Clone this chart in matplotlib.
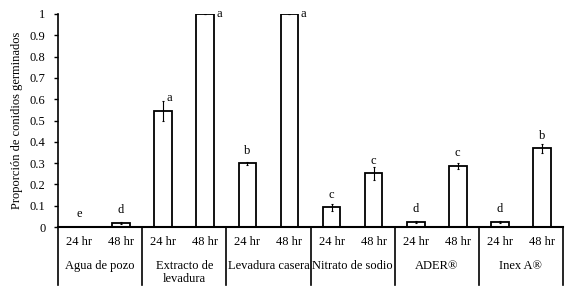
import matplotlib
matplotlib.use("Agg")
import matplotlib.pyplot as plt
import numpy as np

plt.rcParams['font.family'] = ['Liberation Serif', 'DejaVu Serif']

groups = ['Agua de pozo', 'Extracto de\nlevadura', 'Levadura casera',
          'Nitrato de sodio', 'ADER®', 'Inex A®']
times = ['24 hr', '48 hr']
values = [0.0, 0.02, 0.545, 1.0, 0.299, 1.0, 0.092, 0.252, 0.023, 0.286, 0.023, 0.369]
errors = [0.0, 0.005, 0.047, 0.002, 0.008, 0.002, 0.016, 0.031, 0.004, 0.013, 0.004, 0.023]
letters = ['e', 'd', 'a', 'a', 'b', 'a', 'c', 'c', 'd', 'c', 'd', 'b']

W, H = 576, 292
fig = plt.figure(figsize=(W / 100, H / 100), dpi=100)
ax = fig.add_axes([58 / W, (H - 227) / H, (563 - 58) / W, (227 - 14) / H])

x = np.arange(len(values))
ax.bar(x, values, width=0.42, color='white', edgecolor='black', linewidth=1.3, zorder=2)
ax.errorbar(x, values, yerr=errors, fmt='none', ecolor='black', elinewidth=0.8,
            capsize=1, capthick=0.8, zorder=3)

for i, (v, e, l) in enumerate(zip(values, errors, letters)):
    if v >= 0.99:
        ax.text(i + 0.27, v, l, ha='left', va='center', fontsize=9)
    else:
        # letter beside the line when the error bar is tall
        dx = 0.14 if e > 0.04 else 0
        ax.text(i + dx, v + 0.06, l, ha='center', va='center', fontsize=9)

ax.set_xlim(-0.5, len(values) - 0.5)
ax.set_ylim(0, 1)
ax.set_yticks(np.arange(0, 1.01, 0.1))
ax.set_yticklabels(['0', '0.1', '0.2', '0.3', '0.4', '0.5', '0.6', '0.7', '0.8', '0.9', '1'])
ax.set_xticks([])
ax.tick_params(axis='y', direction='out', length=3, width=1, labelsize=9, pad=6)
ax.set_ylabel('Proporción de conidios germinados', fontsize=9, labelpad=5)
for s in ['top', 'right']:
    ax.spines[s].set_visible(False)
ax.spines['left'].set_linewidth(1.2)
ax.spines['bottom'].set_linewidth(1.5)

# category rows below the axis
trans = ax.get_xaxis_transform()
y_tick = -(242 - 227) / 213
y_grp = -(266 - 227) / 213
y_bot = -(285 - 227) / 213
for i in range(len(values)):
    ax.text(i, y_tick, times[i % 2], transform=trans, ha='center', va='center',
            fontsize=9, clip_on=False)
for g, name in enumerate(groups):
    yy = y_grp if '\n' not in name else y_grp - 0.03
    ax.text(2 * g + 0.5, yy, name, transform=trans, ha='center', va='center',
            fontsize=9, linespacing=1.1, clip_on=False)
for g in range(len(groups) + 1):
    ax.plot([2 * g - 0.5, 2 * g - 0.5], [0, y_bot], transform=trans, color='black',
            linewidth=1.2, clip_on=False)

fig.savefig('out.png', dpi=100)
